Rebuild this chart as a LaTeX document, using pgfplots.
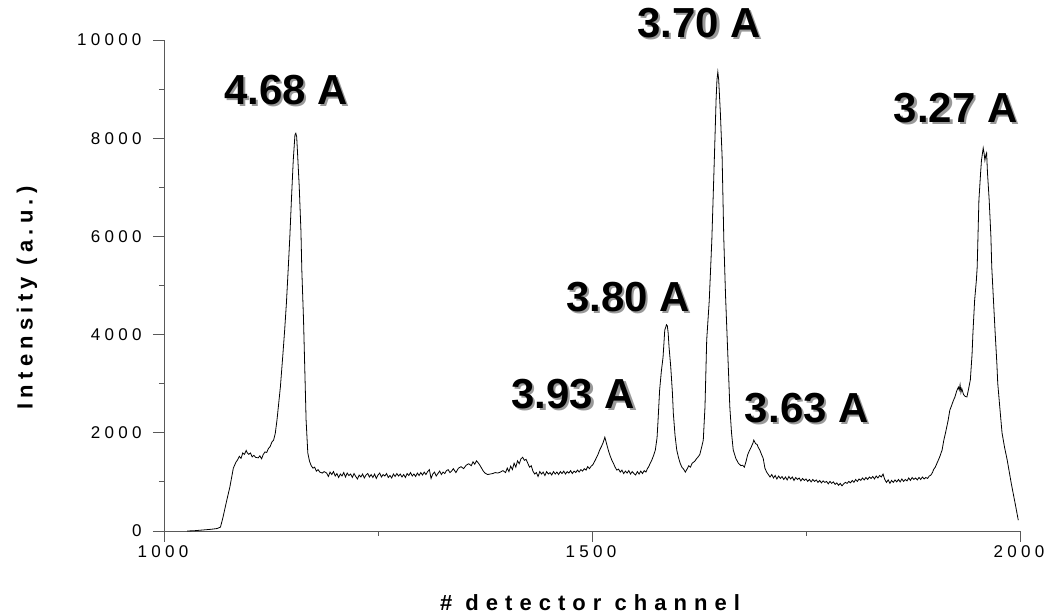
\documentclass[border=0pt]{standalone}
\usepackage{fontspec}
\setmainfont{Liberation Sans}
\newfontfamily\tickfont[LetterSpace=25]{Liberation Sans}
\newfontfamily\labelfont[LetterSpace=24]{Liberation Sans}
\newfontfamily\xlabelfont[LetterSpace=32]{Liberation Sans}
\usepackage{pgfplots}
\pgfplotsset{compat=1.18}
\begin{document}
\begin{tikzpicture}
\begin{axis}[
  scale only axis, width=856pt, height=491pt,
  xmin=1000, xmax=2000, ymin=0, ymax=10000,
  axis lines*=left,
  axis line style={draw=black!65, line width=0.8pt},
  every tick/.style={draw=black!65, line width=0.8pt},
  tick align=outside,
  major tick length=11pt, minor tick length=5pt,
  xtick={1000,1500,2000}, minor x tick num=1,
  ytick={0,2000,4000,6000,8000,10000}, minor y tick num=1,
  scaled y ticks=false, scaled x ticks=false,
  /pgf/number format/assume math mode=true,
  /pgf/number format/1000 sep={},
  ticklabel style={font=\tickfont\fontsize{17}{19}\selectfont, text=black},
  yticklabel style={xshift=-8pt},
  xticklabel style={xshift=-1pt},
  xlabel={\# detector channel},
  ylabel={Intensity (a.u.)},
  label style={font=\labelfont\bfseries\fontsize{22}{25}\selectfont},
  xlabel style={font=\xlabelfont\bfseries\fontsize{22}{25}\selectfont, at={(axis description cs:0.4977,-0.1466)}, anchor=center},
  ylabel style={at={(axis description cs:-0.160,0.4745)}, anchor=center, rotate=0},
  clip=false,
]
\addplot[black, line width=0.8pt] coordinates {
(1027,0)(1035,5)(1045,20)(1055,35)(1062,50)(1066,80)
(1069,285)(1073,600)(1077,900)(1081,1280)(1084,1400)(1086,1450)(1088,1520)(1090,1480)(1092,1590)(1094,1560)(1096,1640)(1097,1600)(1099,1560)(1101,1590)(1103,1510)(1105,1540)(1107,1500)(1110,1490)(1112,1530)(1114,1470)(1116,1560)(1118,1610)(1120,1600)(1122,1680)(1124,1720)(1126,1810)(1128,1850)(1130,1990)(1132,2260)(1134,2600)(1136,2940)(1139,3620)(1141,4100)(1143,4640)(1145,5300)(1147,5990)(1149,6800)(1151,7550)(1153,8070)(1154,8100)(1155,8030)(1156,7700)(1158,7010)(1160,6100)(1161,5320)(1163,4300)(1164,3620)(1166,2260)(1168,1590)(1170,1420)(1172,1330)(1174,1280)(1176,1300)(1178,1220)(1180,1250)(1182,1200)(1185,1180)(1187,1210)
(1190,1180)(1192,1110)(1194,1200)(1196,1150)(1198,1210)(1200,1120)(1202,1170)(1204,1090)(1206,1160)(1208,1120)(1210,1190)(1212,1100)(1214,1180)(1216,1130)(1218,1160)(1220,1090)(1222,1170)(1224,1110)(1226,1060)(1228,1140)(1230,1100)(1232,1160)(1234,1080)(1236,1140)(1238,1170)(1240,1100)(1242,1150)(1244,1090)(1246,1160)(1248,1070)(1250,1140)(1252,1180)(1254,1100)(1256,1150)(1258,1120)(1260,1170)(1262,1090)(1264,1130)(1266,1080)(1268,1160)(1270,1110)(1272,1170)(1274,1120)(1276,1160)(1278,1100)(1280,1150)(1282,1090)(1284,1170)(1286,1130)(1288,1190)(1290,1120)(1292,1160)(1294,1110)(1296,1180)(1298,1130)(1300,1190)(1302,1140)(1304,1200)(1306,1150)(1308,1210)(1310,1250)(1312,1070)(1314,1160)(1316,1200)(1318,1120)(1320,1170)(1322,1220)(1324,1150)(1326,1200)(1328,1170)(1330,1230)(1332,1250)(1334,1190)(1336,1220)(1338,1270)
(1341,1190)(1344,1280)(1347,1310)(1350,1270)(1353,1340)(1356,1370)(1359,1330)(1361,1410)(1363,1360)(1365,1430)(1367,1390)(1369,1340)(1371,1280)(1373,1220)(1375,1180)(1378,1150)(1381,1160)(1384,1170)(1387,1190)(1390,1180)(1393,1200)(1396,1230)(1399,1190)(1401,1280)(1403,1210)(1405,1320)(1407,1250)(1409,1380)(1411,1300)(1413,1430)(1415,1370)(1417,1470)(1419,1500)(1421,1440)(1423,1460)(1425,1380)(1427,1300)(1429,1330)(1431,1220)(1433,1160)(1435,1190)(1437,1110)(1439,1210)(1441,1160)(1443,1200)(1445,1130)(1447,1210)(1449,1160)(1451,1190)(1453,1140)(1455,1210)(1457,1160)(1459,1200)(1461,1150)(1463,1210)(1465,1170)(1467,1220)(1469,1160)(1471,1210)(1473,1180)(1475,1230)(1477,1170)(1479,1220)(1481,1190)(1483,1240)(1485,1200)(1487,1250)(1489,1220)(1491,1270)(1493,1240)(1495,1310)(1497,1270)(1499,1320)
(1501,1350)(1504,1450)(1507,1560)(1509,1650)(1511,1720)(1513,1800)(1515,1910)(1517,1780)(1519,1650)(1521,1540)(1523,1450)(1525,1380)(1527,1300)(1529,1240)(1531,1260)(1533,1200)(1535,1240)(1537,1170)(1539,1220)(1541,1180)(1543,1230)(1545,1160)(1547,1210)(1549,1170)(1551,1140)(1553,1210)(1555,1160)(1557,1220)(1559,1170)(1561,1230)(1563,1200)(1565,1280)(1566,1300)(1568,1380)(1570,1450)(1572,1540)(1574,1650)(1576,1900)(1577,2200)(1579,2870)(1581,3250)(1583,3540)(1585,4090)(1587,4200)(1588,4180)(1589,4030)(1590,3750)(1592,3340)(1594,2800)(1595,2400)(1597,1950)(1599,1650)
(1601,1500)(1603,1380)(1605,1300)(1607,1260)(1609,1200)(1611,1260)(1613,1330)(1615,1300)(1617,1380)(1620,1420)(1622,1470)(1624,1510)(1626,1560)(1628,1700)(1630,1850)(1632,2530)(1634,3890)(1637,4700)(1640,5930)(1643,7620)(1645,8800)(1646,9190)(1647,9350)(1648,9190)(1650,8500)(1652,7620)(1654,5930)(1656,4800)(1658,3890)(1660,3000)(1661,2530)(1663,2000)(1665,1650)(1668,1480)(1671,1380)(1674,1330)(1676,1340)(1678,1300)(1680,1420)(1682,1560)(1684,1640)(1686,1710)(1688,1790)(1689,1850)(1691,1780)(1693,1760)(1694,1710)(1696,1650)(1698,1560)(1700,1480)
(1702,1280)(1704,1200)(1706,1150)(1708,1100)(1710,1150)(1712,1080)(1714,1130)(1716,1060)(1718,1120)(1720,1070)(1722,1110)(1724,1050)(1726,1100)(1728,1040)(1730,1110)(1732,1060)(1734,1100)(1736,1030)(1738,1090)(1740,1050)(1742,1080)(1744,1020)(1746,1070)(1748,1030)(1750,1060)(1752,1010)(1754,1050)(1756,1000)(1758,1050)(1760,1010)(1762,1040)(1764,990)(1766,1030)(1768,980)(1770,1020)(1772,990)(1774,1010)(1776,960)(1778,1010)(1780,970)(1782,1000)(1784,950)(1786,980)(1788,930)(1790,970)(1792,920)(1794,960)(1796,990)(1798,970)(1800,1010)
(1802,980)(1804,1030)(1806,990)(1808,1050)(1810,1010)(1812,1060)(1814,1030)(1816,1080)(1818,1040)(1820,1090)(1822,1050)(1824,1100)(1826,1070)(1828,1110)(1830,1060)(1832,1120)(1834,1080)(1836,1130)(1838,1100)(1840,1160)(1842,1050)(1844,990)(1846,1040)(1848,970)(1850,1030)(1852,990)(1854,1040)(1856,1000)(1858,1050)(1860,1000)(1862,1060)(1864,1010)(1866,1050)(1868,1020)(1870,1080)(1872,1030)(1874,1090)(1876,1050)(1878,1080)(1880,1040)(1882,1090)(1884,1050)(1886,1100)(1888,1060)(1890,1090)(1892,1070)(1894,1120)(1896,1140)(1898,1200)(1899,1250)
(1901,1300)(1903,1380)(1906,1500)(1909,1650)(1911,1850)(1913,2000)(1916,2250)(1918,2460)(1920,2550)(1922,2650)(1924,2730)(1926,2850)(1928,2930)(1929,2870)(1930,2980)(1931,2820)(1932,2900)(1934,2780)(1936,2740)(1938,2730)(1940,2900)(1942,3080)(1944,3600)(1945,4030)(1947,4700)(1949,5100)(1950,5380)(1952,6740)(1954,7300)(1955,7550)(1957,7800)(1958,7700)(1959,7550)(1960,7650)(1961,7700)(1962,7300)(1964,6740)(1966,6000)(1967,5380)(1969,4700)(1971,4030)(1973,3400)(1974,3010)(1976,2600)(1979,2000)(1982,1700)(1985,1450)(1988,1150)(1990,950)(1992,770)(1995,500)(1998,220)
};
% peak labels: gray shadow then black text
\node[text=black!40, font=\bfseries\fontsize{42}{48}\selectfont] at ([xshift=2.5pt,yshift=-2.5pt]axis cs:1142.5,8982) {4.68 A};
\node[text=black, font=\bfseries\fontsize{42}{48}\selectfont] at (axis cs:1142.5,8982) {4.68 A};
\node[text=black!40, font=\bfseries\fontsize{42}{48}\selectfont] at ([xshift=2.5pt,yshift=-2.5pt]axis cs:1625,10346) {3.70 A};
\node[text=black, font=\bfseries\fontsize{42}{48}\selectfont] at (axis cs:1625,10346) {3.70 A};
\node[text=black!40, font=\bfseries\fontsize{42}{48}\selectfont] at ([xshift=2.5pt,yshift=-2.5pt]axis cs:1925,8615) {3.27 A};
\node[text=black, font=\bfseries\fontsize{42}{48}\selectfont] at (axis cs:1925,8615) {3.27 A};
\node[text=black!40, font=\bfseries\fontsize{42}{48}\selectfont] at ([xshift=2.5pt,yshift=-2.5pt]axis cs:1542,4766) {3.80 A};
\node[text=black, font=\bfseries\fontsize{42}{48}\selectfont] at (axis cs:1542,4766) {3.80 A};
\node[text=black!40, font=\bfseries\fontsize{42}{48}\selectfont] at ([xshift=2.5pt,yshift=-2.5pt]axis cs:1478,2790) {3.93 A};
\node[text=black, font=\bfseries\fontsize{42}{48}\selectfont] at (axis cs:1478,2790) {3.93 A};
\node[text=black!40, font=\bfseries\fontsize{42}{48}\selectfont] at ([xshift=2.5pt,yshift=-2.5pt]axis cs:1751,2505) {3.63 A};
\node[text=black, font=\bfseries\fontsize{42}{48}\selectfont] at (axis cs:1751,2505) {3.63 A};
\end{axis}
\pgfresetboundingbox
\path[use as bounding box] (-164pt,-85pt) rectangle (881pt,531pt);
\end{tikzpicture}
\end{document}
